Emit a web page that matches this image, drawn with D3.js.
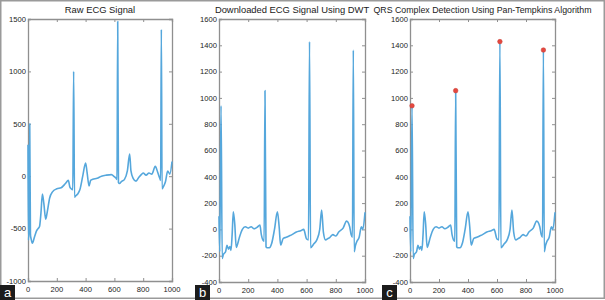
<!DOCTYPE html>
<html>
  <head>
    <meta charset="UTF-8" />
    <script src="https://d3js.org/d3.v7.min.js"></script>
    <style>
      body { margin: 0; background: #fff; }
      text { font-family: "Liberation Sans", Arial, sans-serif; }
    </style>
  </head>
  <body>
    <svg width="605" height="300"></svg>
    <script>
      // data
      const titles = ["Raw ECG Signal", "Downloaded ECG Signal Using DWT", "QRS Complex Detection Using Pan-Tempkins Algorithm"]
      const panelLabels = ["a", "b", "c"]
      const xTicks = [0, 200, 400, 600, 800, 1000]
      const rawTicks = [-1000, -500, 0, 500, 1000, 1500]
      const dwtTicks = [-400, -200, 0, 200, 400, 600, 800, 1000, 1200, 1400, 1600]

      const rawT = [0, 3, 8, 12, 17, 22, 30, 45, 60, 70, 80, 90, 100, 110, 123, 135, 150, 170, 200, 230, 260, 280, 290, 300, 311, 317, 323, 330, 345, 360, 380, 400, 410, 424, 435, 450, 480, 510, 544, 579, 600, 612, 618, 623, 628, 635, 650, 670, 690, 706, 715, 730, 750, 770, 790, 800, 820, 840, 860, 884, 900, 915, 921, 926, 931, 940, 955, 970, 985, 1000]
      const rawV = [300, -610, -480, 500, -560, -600, -640, -580, -520, -500, -480, -350, -170, -260, -410, -330, -210, -150, -120, -110, -70, -40, -100, -120, -130, 1000, -200, -190, -170, -130, 0, 125, 40, -94, -40, -30, -20, 0, 10, 15, -5, -20, -30, 1475, -60, -70, -50, -30, 50, 212, 50, -20, -47, -10, 20, 30, 10, 30, 20, 94, 40, -20, -40, 1400, -120, -100, -50, 50, 20, 140]

      const dwtT = [0, 5, 14, 22, 30, 45, 55, 65, 75, 82, 90, 98, 108, 118, 125, 140, 160, 180, 200, 220, 240, 260, 280, 290, 300, 309, 315, 322, 330, 345, 360, 380, 400, 412, 422, 440, 460, 480, 500, 530, 560, 580, 600, 613, 620, 627, 650, 670, 690, 703, 715, 730, 745, 760, 780, 800, 820, 850, 874, 895, 905, 914, 920, 926, 935, 945, 960, 975, 985, 1000]
      const dwtV = [100, -170, 940, -220, -190, -170, -120, -150, -130, -160, -40, 134, 40, -137, -120, -60, 0, 20, 10, 20, 5, 15, 33, -40, -80, -90, 1055, -132, -140, -140, -110, 0, 134, 20, -119, -68, -60, -50, -40, -20, -10, 0, -73, -80, 1428, -139, -110, -80, 0, 147, -20, -80, -70, -60, -40, -50, -20, 10, 63, 20, -40, -60, 1364, -170, -120, -90, -60, 20, 0, 130]

      const peakT = [14, 315, 620, 920]
      const peakV = [940, 1055, 1428, 1364]

      const svg = d3.select("svg")

      // outer frame
      svg.append("rect")
        .attr("x", 0.75).attr("y", 0.75)
        .attr("width", 603.5).attr("height", 297.5)
        .attr("fill", "none").attr("stroke", "#9a9a9a").attr("stroke-width", 1.5)

      const panels = [
        { left: 28, right: 172, top: 19, bottom: 281, yDomain: [-1000, 1500], yTicks: rawTicks, t: rawT, v: rawV, peaks: false },
        { left: 219, right: 365, top: 19, bottom: 282, yDomain: [-400, 1600], yTicks: dwtTicks, t: dwtT, v: dwtV, peaks: false },
        { left: 410, right: 555, top: 19, bottom: 282, yDomain: [-400, 1600], yTicks: dwtTicks, t: dwtT, v: dwtV, peaks: true }
      ]

      panels.forEach((p, i) => {
        const g = svg.append("g")
        const x = d3.scaleLinear().domain([0, 1000]).range([p.left, p.right])
        const y = d3.scaleLinear().domain(p.yDomain).range([p.bottom, p.top])

        // title
        g.append("text")
          .attr("x", (p.left + p.right) / 2)
          .attr("y", 13)
          .attr("text-anchor", "middle")
          .attr("font-size", i == 2 ? 8.8 : 9.4)
          .attr("fill", "#1a1a1a")
          .text(titles[i])

        // axes, MATLAB style: box plus inward ticks on all sides
        const axisColor = "#8f8f8f"
        const bottomAxis = g.append("g")
          .attr("transform", "translate(0," + p.bottom + ")")
          .call(d3.axisTop(x).tickValues(xTicks).tickSize(3).tickFormat(""))
        const topAxis = g.append("g")
          .attr("transform", "translate(0," + p.top + ")")
          .call(d3.axisBottom(x).tickValues(xTicks).tickSize(3).tickFormat(""))
        const leftAxis = g.append("g")
          .attr("transform", "translate(" + p.left + ",0)")
          .call(d3.axisRight(y).tickValues(p.yTicks).tickSize(3).tickFormat(""))
        const rightAxis = g.append("g")
          .attr("transform", "translate(" + p.right + ",0)")
          .call(d3.axisLeft(y).tickValues(p.yTicks).tickSize(3).tickFormat(""))
        ;[bottomAxis, topAxis, leftAxis, rightAxis].forEach((a) => {
          a.selectAll("path").attr("stroke", axisColor).attr("stroke-width", 1.3)
          a.selectAll("line").attr("stroke", axisColor)
        })

        // tick labels
        g.selectAll(".xl")
          .data(xTicks)
          .enter()
          .append("text")
          .attr("x", (d) => x(d))
          .attr("y", p.bottom + 11)
          .attr("text-anchor", "middle")
          .attr("font-size", 7.6)
          .attr("fill", "#222")
          .text((d) => d)
        g.selectAll(".yl")
          .data(p.yTicks)
          .enter()
          .append("text")
          .attr("x", p.left - 2)
          .attr("y", (d) => y(d) + 2.7)
          .attr("text-anchor", "end")
          .attr("font-size", 7.6)
          .attr("fill", "#222")
          .text((d) => d)

        // signal
        const line = d3.line()
          .x((d, k) => x(p.t[k]))
          .y((d) => y(d))
          .curve(d3.curveMonotoneX)
        g.append("path")
          .datum(p.v)
          .attr("d", line)
          .attr("fill", "none")
          .attr("stroke", "#55a7dc")
          .attr("stroke-width", 1.6)
          .attr("stroke-linejoin", "round")

        if (p.peaks) {
          g.selectAll(".pk")
            .data(peakV)
            .enter()
            .append("circle")
            .attr("cx", (d, k) => x(peakT[k]))
            .attr("cy", (d) => y(d))
            .attr("r", 2.3)
            .attr("fill", "#e5483f")
            .attr("stroke", "#c43a33")
            .attr("stroke-width", 0.5)
        }
      })

      // panel letters
      const labelX = [0, 195, 382]
      panelLabels.forEach((l, i) => {
        svg.append("rect")
          .attr("x", labelX[i]).attr("y", 285)
          .attr("width", 15).attr("height", 15)
          .attr("fill", "#1c1c1c")
        svg.append("text")
          .attr("x", labelX[i] + 7.5).attr("y", 297)
          .attr("text-anchor", "middle")
          .attr("font-size", 13)
          .attr("fill", "#fff")
          .text(l)
      })
    </script>
  </body>
</html>
